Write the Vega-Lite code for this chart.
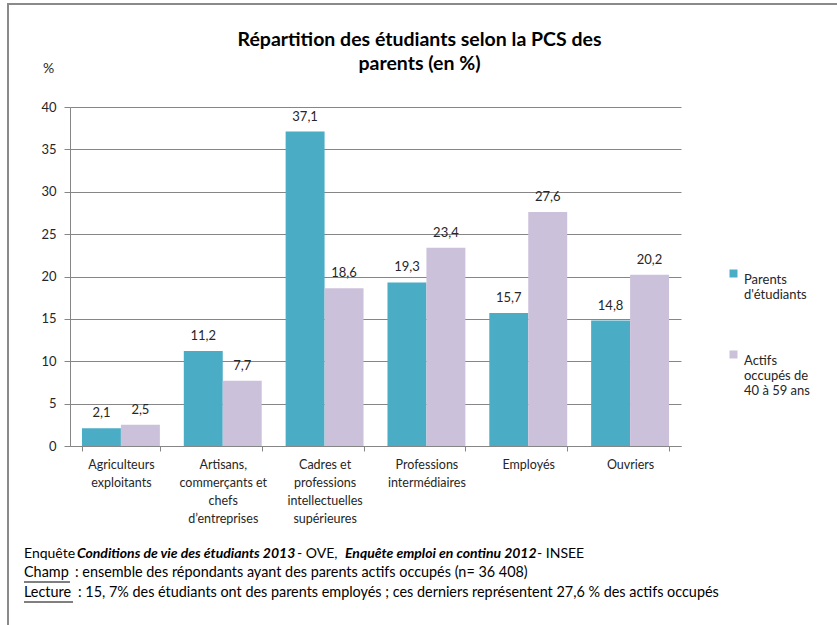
{
  "$schema": "https://vega.github.io/schema/vega-lite/v6.json",
  "width": 611,
  "height": 339,
  "autosize": {"type": "none"},
  "padding": {"left": 70, "top": 107, "right": 156, "bottom": 179},
  "background": "white",
  "config": {
    "locale": {"number": {"decimal": ",", "thousands": " ", "grouping": [3], "currency": ["", " €"]}},
    "font": "Lato",
    "view": {"stroke": null}
  },
  "title": {
    "text": ["Répartition des étudiants  selon la PCS des", "parents (en %)"],
    "font": "Lato",
    "fontSize": 19.5,
    "fontWeight": "bold",
    "color": "#000000",
    "lineHeight": 24,
    "anchor": "middle",
    "dx": 44,
    "offset": -72
  },
  "layer": [
    {
      "data": {"values": [{"t": "frame"}]},
      "mark": {"type": "rule", "color": "#8a8a8a", "strokeWidth": 2},
      "encoding": {"x": {"value": -62}, "x2": {"value": 767}, "y": {"value": -103}}
    },
    {
      "data": {"values": [{"t": "frame"}]},
      "mark": {"type": "rule", "color": "#8a8a8a", "strokeWidth": 2},
      "encoding": {"x": {"value": -62}, "y": {"value": -104}, "y2": {"value": 518}}
    },
    {
      "data": {
        "values": [
          {"cat": "Agriculteurs|exploitants", "serie": "Parents d'étudiants", "pct": 2.1},
          {"cat": "Agriculteurs|exploitants", "serie": "Actifs occupés de 40 à 59 ans", "pct": 2.5},
          {"cat": "Artisans,|commerçants et|chefs|d’entreprises", "serie": "Parents d'étudiants", "pct": 11.2},
          {"cat": "Artisans,|commerçants et|chefs|d’entreprises", "serie": "Actifs occupés de 40 à 59 ans", "pct": 7.7},
          {"cat": "Cadres et|professions|intellectuelles|supérieures", "serie": "Parents d'étudiants", "pct": 37.1},
          {"cat": "Cadres et|professions|intellectuelles|supérieures", "serie": "Actifs occupés de 40 à 59 ans", "pct": 18.6},
          {"cat": "Professions|intermédiaires", "serie": "Parents d'étudiants", "pct": 19.3},
          {"cat": "Professions|intermédiaires", "serie": "Actifs occupés de 40 à 59 ans", "pct": 23.4},
          {"cat": "Employés", "serie": "Parents d'étudiants", "pct": 15.7},
          {"cat": "Employés", "serie": "Actifs occupés de 40 à 59 ans", "pct": 27.6},
          {"cat": "Ouvriers", "serie": "Parents d'étudiants", "pct": 14.8},
          {"cat": "Ouvriers", "serie": "Actifs occupés de 40 à 59 ans", "pct": 20.2}
        ]
      },
      "encoding": {
        "x": {
          "field": "cat",
          "type": "nominal",
          "sort": null,
          "scale": {"paddingInner": 0.235, "paddingOuter": 0.1175},
          "axis": {
            "title": null,
            "labelAngle": 0,
            "labelExpr": "split(datum.label, '|')",
            "labelFontSize": 12.5,
            "labelLineHeight": 18,
            "labelColor": "#262626",
            "labelBaseline": "top",
            "labelPadding": 7,
            "labelOverlap": false,
            "labelBound": false,
            "labelLimit": 200,
            "tickBand": "extent",
            "tickSize": 5,
            "tickColor": "#868686",
            "domainColor": "#868686"
          }
        },
        "xOffset": {"field": "serie", "type": "nominal", "sort": ["Parents d'étudiants", "Actifs occupés de 40 à 59 ans"]},
        "y": {
          "field": "pct",
          "type": "quantitative",
          "scale": {"domain": [0, 40], "nice": false},
          "axis": {
            "title": "%",
            "titleAngle": 0,
            "titleX": -22,
            "titleY": -39,
            "titleAlign": "center",
            "titleBaseline": "middle",
            "titleFontSize": 14,
            "titleFontWeight": "normal",
            "titleColor": "#262626",
            "values": [0, 5, 10, 15, 20, 25, 30, 35, 40],
            "labelFontSize": 13,
            "labelColor": "#262626",
            "labelPadding": 8,
            "tickSize": 6,
            "tickColor": "#868686",
            "domainColor": "#868686",
            "gridColor": "#868686",
            "gridOpacity": 1
          }
        }
      },
      "layer": [
        {
          "mark": {"type": "bar"},
          "encoding": {
            "color": {
              "field": "serie",
              "type": "nominal",
              "scale": {"domain": ["Parents d'étudiants", "Actifs occupés de 40 à 59 ans"], "range": ["#4BACC6", "#CCC1DA"]},
              "legend": {
                "title": null,
                "orient": "none",
                "legendX": 657,
                "legendY": 160,
                "symbolType": "square",
                "symbolSize": 64,
                "symbolStrokeWidth": 0,
                "labelFontSize": 13,
                "labelColor": "#262626",
                "labelBaseline": "top",
                "labelOffset": 4,
                "labelLimit": 200,
                "rowPadding": 46,
                "labelExpr": "substring(datum.label, 0, 7) == 'Parents' ? ['Parents', \"d'étudiants\"] : ['Actifs', 'occupés de', '40 à 59 ans']"
              }
            }
          }
        },
        {
          "mark": {"type": "text", "baseline": "middle", "dy": -15, "fontSize": 13, "color": "#262626"},
          "encoding": {
            "text": {"field": "pct", "type": "quantitative", "format": ".1f"}
          }
        }
      ]
    },
    {
      "data": {"values": [{"t": "Enquête"}]},
      "mark": {"type": "text", "align": "left", "baseline": "middle", "fontSize": 14, "color": "#000000"},
      "encoding": {"text": {"field": "t"}, "x": {"value": -46}, "y": {"value": 447}}
    },
    {
      "data": {"values": [{"t": "Conditions de vie des étudiants 2013"}]},
      "mark": {"type": "text", "align": "left", "baseline": "middle", "fontSize": 14, "fontWeight": "bold", "fontStyle": "italic", "color": "#000000"},
      "encoding": {"text": {"field": "t"}, "x": {"value": 7}, "y": {"value": 447}}
    },
    {
      "data": {"values": [{"t": "- OVE,"}]},
      "mark": {"type": "text", "align": "left", "baseline": "middle", "fontSize": 14, "color": "#000000"},
      "encoding": {"text": {"field": "t"}, "x": {"value": 227}, "y": {"value": 447}}
    },
    {
      "data": {"values": [{"t": "Enquête emploi en continu 2012"}]},
      "mark": {"type": "text", "align": "left", "baseline": "middle", "fontSize": 14, "fontWeight": "bold", "fontStyle": "italic", "color": "#000000"},
      "encoding": {"text": {"field": "t"}, "x": {"value": 275}, "y": {"value": 447}}
    },
    {
      "data": {"values": [{"t": "- INSEE"}]},
      "mark": {"type": "text", "align": "left", "baseline": "middle", "fontSize": 14, "color": "#000000"},
      "encoding": {"text": {"field": "t"}, "x": {"value": 467}, "y": {"value": 447}}
    },
    {
      "data": {"values": [{"t": "Champ"}]},
      "mark": {"type": "text", "align": "left", "baseline": "middle", "fontSize": 14.4, "color": "#000000"},
      "encoding": {"text": {"field": "t"}, "x": {"value": -46}, "y": {"value": 466}}
    },
    {
      "data": {"values": [{"t": ": ensemble des répondants  ayant des parents actifs occupés (n= 36 408)"}]},
      "mark": {"type": "text", "align": "left", "baseline": "middle", "fontSize": 14.4, "color": "#000000"},
      "encoding": {"text": {"field": "t"}, "x": {"value": 5}, "y": {"value": 466}}
    },
    {
      "data": {"values": [{"t": "Lecture"}]},
      "mark": {"type": "text", "align": "left", "baseline": "middle", "fontSize": 14.4, "color": "#000000"},
      "encoding": {"text": {"field": "t"}, "x": {"value": -46}, "y": {"value": 486}}
    },
    {
      "data": {"values": [{"t": ": 15, 7% des étudiants ont des parents employés  ; ces derniers représentent 27,6 % des actifs occupés"}]},
      "mark": {"type": "text", "align": "left", "baseline": "middle", "fontSize": 14.4, "color": "#000000"},
      "encoding": {"text": {"field": "t"}, "x": {"value": 8}, "y": {"value": 486}}
    },
    {
      "data": {"values": [{"t": "Champ"}]},
      "mark": {"type": "rule", "color": "#000000", "strokeWidth": 1},
      "encoding": {"x": {"value": -46}, "x2": {"value": 0}, "y": {"value": 475}}
    },
    {
      "data": {"values": [{"t": "Lecture"}]},
      "mark": {"type": "rule", "color": "#000000", "strokeWidth": 1},
      "encoding": {"x": {"value": -46}, "x2": {"value": 3}, "y": {"value": 495}}
    }
  ],
  "resolve": {"scale": {"x": "independent", "y": "independent"}}
}
